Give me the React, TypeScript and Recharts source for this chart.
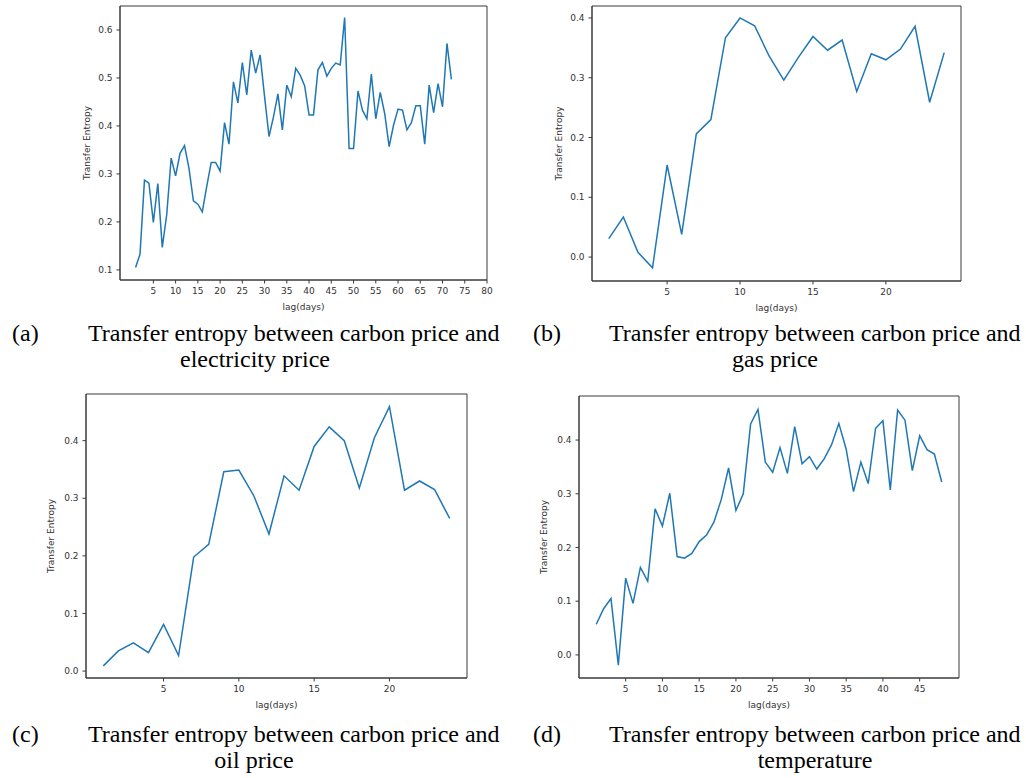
import React from 'react';
import { Label, Line, LineChart, ReferenceArea, XAxis, YAxis } from 'recharts';

// ============ Data (transfer entropy by lag, lag = index + 1) ============

const TE_ELECTRICITY = [
  0.105, 0.133, 0.287, 0.281, 0.199, 0.28, 0.147, 0.215, 0.333, 0.296,
  0.343, 0.359, 0.312, 0.244, 0.237, 0.221, 0.274, 0.324, 0.324, 0.306,
  0.407, 0.362, 0.492, 0.448, 0.532, 0.465, 0.558, 0.51, 0.548, 0.461,
  0.378, 0.419, 0.467, 0.392, 0.485, 0.461, 0.52, 0.506, 0.484, 0.423,
  0.423, 0.517, 0.532, 0.504, 0.52, 0.531, 0.527, 0.626, 0.353, 0.353,
  0.473, 0.433, 0.415, 0.508, 0.415, 0.47, 0.426, 0.357, 0.402, 0.435,
  0.433, 0.392, 0.407, 0.442, 0.442, 0.362, 0.485, 0.428, 0.488, 0.44,
  0.572, 0.497,
];

const TE_GAS = [
  0.031, 0.067, 0.008, -0.018, 0.154, 0.038, 0.206, 0.23, 0.367, 0.4,
  0.387, 0.336, 0.296, 0.334, 0.369, 0.346, 0.363, 0.277, 0.34, 0.33,
  0.348, 0.386, 0.259, 0.342,
];

const TE_OIL = [
  0.009, 0.035, 0.049, 0.032, 0.081, 0.027, 0.198, 0.22, 0.346, 0.349,
  0.304, 0.238, 0.339, 0.314, 0.39, 0.424, 0.4, 0.318, 0.405, 0.459,
  0.314, 0.33, 0.315, 0.265,
];

const TE_TEMPERATURE = [
  0.057, 0.086, 0.105, -0.019, 0.143, 0.096, 0.163, 0.137, 0.272, 0.24,
  0.301, 0.183, 0.18, 0.189, 0.211, 0.223, 0.247, 0.289, 0.348, 0.269,
  0.3, 0.43, 0.457, 0.359, 0.34, 0.386, 0.338, 0.425, 0.356, 0.369,
  0.346, 0.365, 0.391, 0.431, 0.383, 0.304, 0.359, 0.319, 0.422, 0.436,
  0.307, 0.456, 0.437, 0.343, 0.408, 0.382, 0.374, 0.322,
];

const X_TICKS_A = [5, 10, 15, 20, 25, 30, 35, 40, 45, 50, 55, 60, 65, 70, 75, 80];
const X_TICKS_24 = [5, 10, 15, 20];
const X_TICKS_48 = [5, 10, 15, 20, 25, 30, 35, 40, 45];
const Y_TICKS_A = [0.1, 0.2, 0.3, 0.4, 0.5, 0.6];
const Y_TICKS_B = [0, 0.1, 0.2, 0.3, 0.4];

// ============ Helpers ============

const toRows = (values: number[]) => values.map((te, i) => ({ lag: i + 1, te }));

const AXIS_COLOR = '#3a3a3a';
const TEXT_STYLE = { fontSize: 9, fill: '#333', fontFamily: 'DejaVu Sans' };

interface PanelProps {
  values: number[];
  xTicks: number[];
  yTicks: number[];
  xDomain: [number, number];
  yDomain: [number, number];
  left: number;
  top: number;
  width: number;
  height: number;
  yLabelOffset: number;
}

// plot area = chart box minus 60px y-axis on the left, 10px right, 6px top, 34px x-axis at the bottom
const Panel: React.FC<PanelProps> = ({
  values, xTicks, yTicks, xDomain, yDomain, left, top, width, height, yLabelOffset,
}) => (
  <div style={{ position: 'absolute', left, top }}>
    <LineChart width={width} height={height + 4} data={toRows(values)} margin={{ top: 6, right: 10, left: 0, bottom: 0 }}>
      <XAxis
        dataKey="lag"
        type="number"
        domain={xDomain}
        ticks={xTicks}
        height={34}
        tickSize={3.5}
        tickMargin={4}
        stroke={AXIS_COLOR}
        tick={TEXT_STYLE}
      >
        <Label value="lag(days)" position="insideBottom" offset={4} style={TEXT_STYLE} />
      </XAxis>
      <YAxis
        type="number"
        domain={yDomain}
        ticks={yTicks}
        width={60}
        tickSize={3.5}
        tickMargin={4}
        stroke={AXIS_COLOR}
        tick={TEXT_STYLE}
        tickFormatter={(v: number) => v.toFixed(1)}
      >
        <Label value="Transfer Entropy" angle={-90} position="insideLeft" offset={yLabelOffset} style={{ ...TEXT_STYLE, textAnchor: 'middle' }} />
      </YAxis>
      {/* axes frame */}
      <ReferenceArea x1={xDomain[0]} x2={xDomain[1]} y1={yDomain[0]} y2={yDomain[1]} fill="none" stroke={AXIS_COLOR} strokeWidth={1} />
      <Line type="linear" dataKey="te" stroke="#1f77b4" strokeWidth={1.5} dot={false} isAnimationActive={false} />
    </LineChart>
  </div>
);

// ============ Captions ============

const CAPTION_FONT: React.CSSProperties = {
  position: 'absolute',
  fontFamily: '"Liberation Serif", "Times New Roman", serif',
  fontSize: 24,
  lineHeight: '24px',
  color: '#000',
  whiteSpace: 'nowrap',
};

const Caption: React.FC<{ tag: string; tagX: number; lineX: number; second: string; secondCenter: number; y: number }> = ({
  tag, tagX, lineX, second, secondCenter, y,
}) => (
  <>
    <div style={{ ...CAPTION_FONT, left: tagX, top: y }}>{tag}</div>
    <div style={{ ...CAPTION_FONT, left: lineX, top: y }}>Transfer entropy between carbon price and</div>
    <div style={{ ...CAPTION_FONT, left: secondCenter, top: y + 26, transform: 'translateX(-50%)' }}>{second}</div>
  </>
);

// ============ Main ============

export default function App() {
  return (
    <div style={{ position: 'absolute', left: 0, top: 0, width: 1026, height: 778, background: '#fff', overflow: 'hidden' }}>
      <Panel values={TE_ELECTRICITY} xTicks={X_TICKS_A} yTicks={Y_TICKS_A} xDomain={[-2.5, 80]} yDomain={[0.079, 0.65]}
        left={60} top={0} width={437} height={310} yLabelOffset={27} />
      <Panel values={TE_GAS} xTicks={X_TICKS_24} yTicks={Y_TICKS_B} xDomain={[-0.15, 25.15]} yDomain={[-0.04, 0.42]}
        left={532} top={0} width={439} height={311} yLabelOffset={27} />
      <Panel values={TE_OIL} xTicks={X_TICKS_24} yTicks={Y_TICKS_B} xDomain={[-0.15, 25.15]} yDomain={[-0.012, 0.481]}
        left={26} top={388} width={451} height={320} yLabelOffset={25} />
      <Panel values={TE_TEMPERATURE} xTicks={X_TICKS_48} yTicks={Y_TICKS_B} xDomain={[-1.35, 50.35]} yDomain={[-0.043, 0.482]}
        left={519} top={390} width={450} height={318} yLabelOffset={25} />

      <Caption tag="(a)" tagX={12} lineX={88} second="electricity price" secondCenter={255} y={321} />
      <Caption tag="(b)" tagX={533} lineX={609} second="gas price" secondCenter={775} y={321} />
      <Caption tag="(c)" tagX={12} lineX={88} second="oil price" secondCenter={254} y={722} />
      <Caption tag="(d)" tagX={533} lineX={609} second="temperature" secondCenter={815} y={722} />
    </div>
  );
}
